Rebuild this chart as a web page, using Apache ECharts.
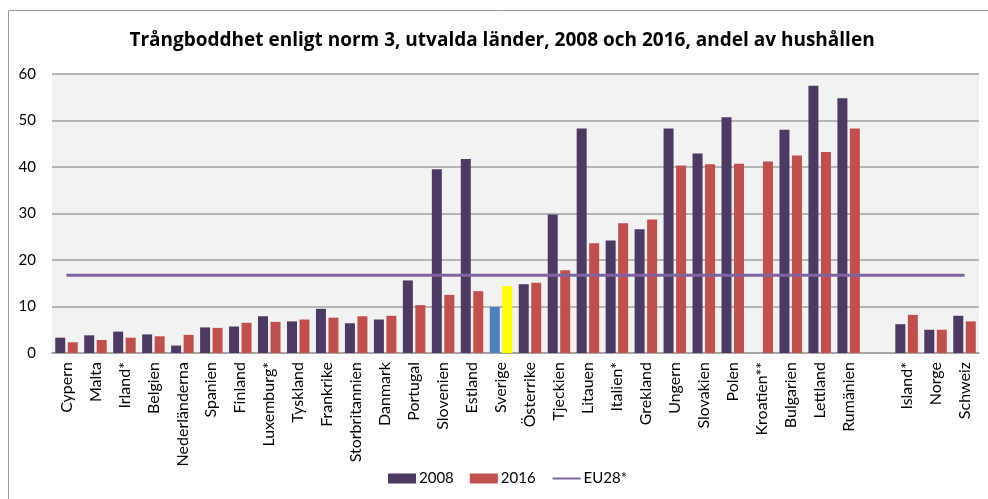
<!DOCTYPE html>
<html>
<head>
<meta charset="utf-8">
<script src="https://cdn.jsdelivr.net/npm/echarts@6/dist/echarts.min.js"></script>
<style>
  html, body { margin: 0; padding: 0; background: #fff; }
  #chart { width: 988px; height: 499px; }
</style>
</head>
<body>
<div id="chart"></div>
<script>
// länder (tom kategori mellan EU-länderna och övriga)
var countries = ["Cypern", "Malta", "Irland*", "Belgien", "Nederländerna", "Spanien", "Finland",
  "Luxemburg*", "Tyskland", "Frankrike", "Storbritannien", "Danmark", "Portugal", "Slovenien",
  "Estland", "Sverige", "Österrike", "Tjeckien", "Litauen", "Italien*", "Grekland", "Ungern",
  "Slovakien", "Polen", "Kroatien**", "Bulgarien", "Lettland", "Rumänien", "", "Island*", "Norge", "Schweiz"];
var v2008 = [3.3, 3.8, 4.6, 4.0, 1.6, 5.5, 5.7, 7.9, 6.8, 9.5, 6.4, 7.2, 15.6, 39.5, 41.7, 9.9,
  14.8, 29.8, 48.3, 24.2, 26.6, 48.3, 42.9, 50.7, null, 48.0, 57.5, 54.8, null, 6.2, 5.0, 8.0];
var v2016 = [2.3, 2.8, 3.3, 3.6, 3.9, 5.4, 6.5, 6.7, 7.2, 7.6, 7.9, 8.0, 10.3, 12.5, 13.3, 14.4,
  15.1, 17.8, 23.6, 27.9, 28.7, 40.3, 40.6, 40.7, 41.2, 42.5, 43.2, 48.3, null, 8.2, 5.0, 6.8];
var eu28 = 16.7;
var yTicks = [0, 10, 20, 30, 40, 50, 60];

var FONT = "Lato, 'Open Sans', sans-serif";
var chart = echarts.init(document.getElementById("chart"));

// Sverige markeras med egna färger
var d2008 = v2008.map(function (v, i) {
  return countries[i] === "Sverige" ? { value: v, itemStyle: { color: "#4F81BD" } } : v;
});
var d2016 = v2016.map(function (v, i) {
  return countries[i] === "Sverige" ? { value: v, itemStyle: { color: "#FFFF00" } } : v;
});

var option = {
  animation: false,
  textStyle: { fontFamily: FONT },
  title: {
    text: "Trångboddhet enligt norm 3, utvalda länder, 2008 och 2016, andel av hushållen",
    left: 497,
    top: 26,
    textAlign: "center",
    textStyle: { fontFamily: "'Open Sans', sans-serif", fontSize: 19, fontWeight: "bold", color: "#000" }
  },
  graphic: [{
    type: "rect",
    shape: { x: 8.5, y: 10.5, width: 1000, height: 500 },
    style: { fill: "none", stroke: "#999", lineWidth: 1 },
    silent: true
  }],
  legend: {
    bottom: 8,
    left: 383,
    itemWidth: 28,
    itemHeight: 10,
    itemGap: 16,
    textStyle: { fontFamily: FONT, fontSize: 15, color: "#000", padding: [0, 0, 0, -2] },
    data: [
      { name: "2008", icon: "rect" },
      { name: "2016", icon: "rect" },
      { name: "EU28*", itemStyle: { opacity: 0 } }
    ]
  },
  grid: {
    left: 52, right: 9, top: 74, bottom: 146,
    show: true, backgroundColor: "#F2F2F2", borderWidth: 0
  },
  xAxis: {
    type: "category",
    data: countries,
    axisLine: { lineStyle: { color: "#A0A0A0", width: 1.5 } },
    axisTick: { show: false },
    axisLabel: {
      interval: 0, rotate: 90, margin: 9,
      fontFamily: FONT, fontSize: 16, color: "#000"
    }
  },
  yAxis: {
    type: "value",
    min: yTicks[0], max: yTicks[yTicks.length - 1], interval: 10,
    axisLine: { show: false },
    axisTick: { show: false },
    axisLabel: { margin: 16, fontFamily: FONT, fontSize: 15, color: "#000" },
    splitLine: { lineStyle: { color: "#A0A0A0", width: 1.5 } }
  },
  series: [
    {
      name: "2008", type: "bar", data: d2008,
      barWidth: 10, barGap: "25%",
      itemStyle: { color: "#4D3A62" }
    },
    {
      name: "2016", type: "bar", data: d2016,
      barWidth: 10,
      itemStyle: { color: "#C0504D" }
    },
    {
      name: "EU28*", type: "line",
      data: countries.map(function () { return eu28; }),
      symbol: "none",
      lineStyle: { color: "#8064A2", width: 3 },
      itemStyle: { color: "#8064A2" },
      z: 5
    }
  ]
};
chart.setOption(option);
</script>
</body>
</html>
